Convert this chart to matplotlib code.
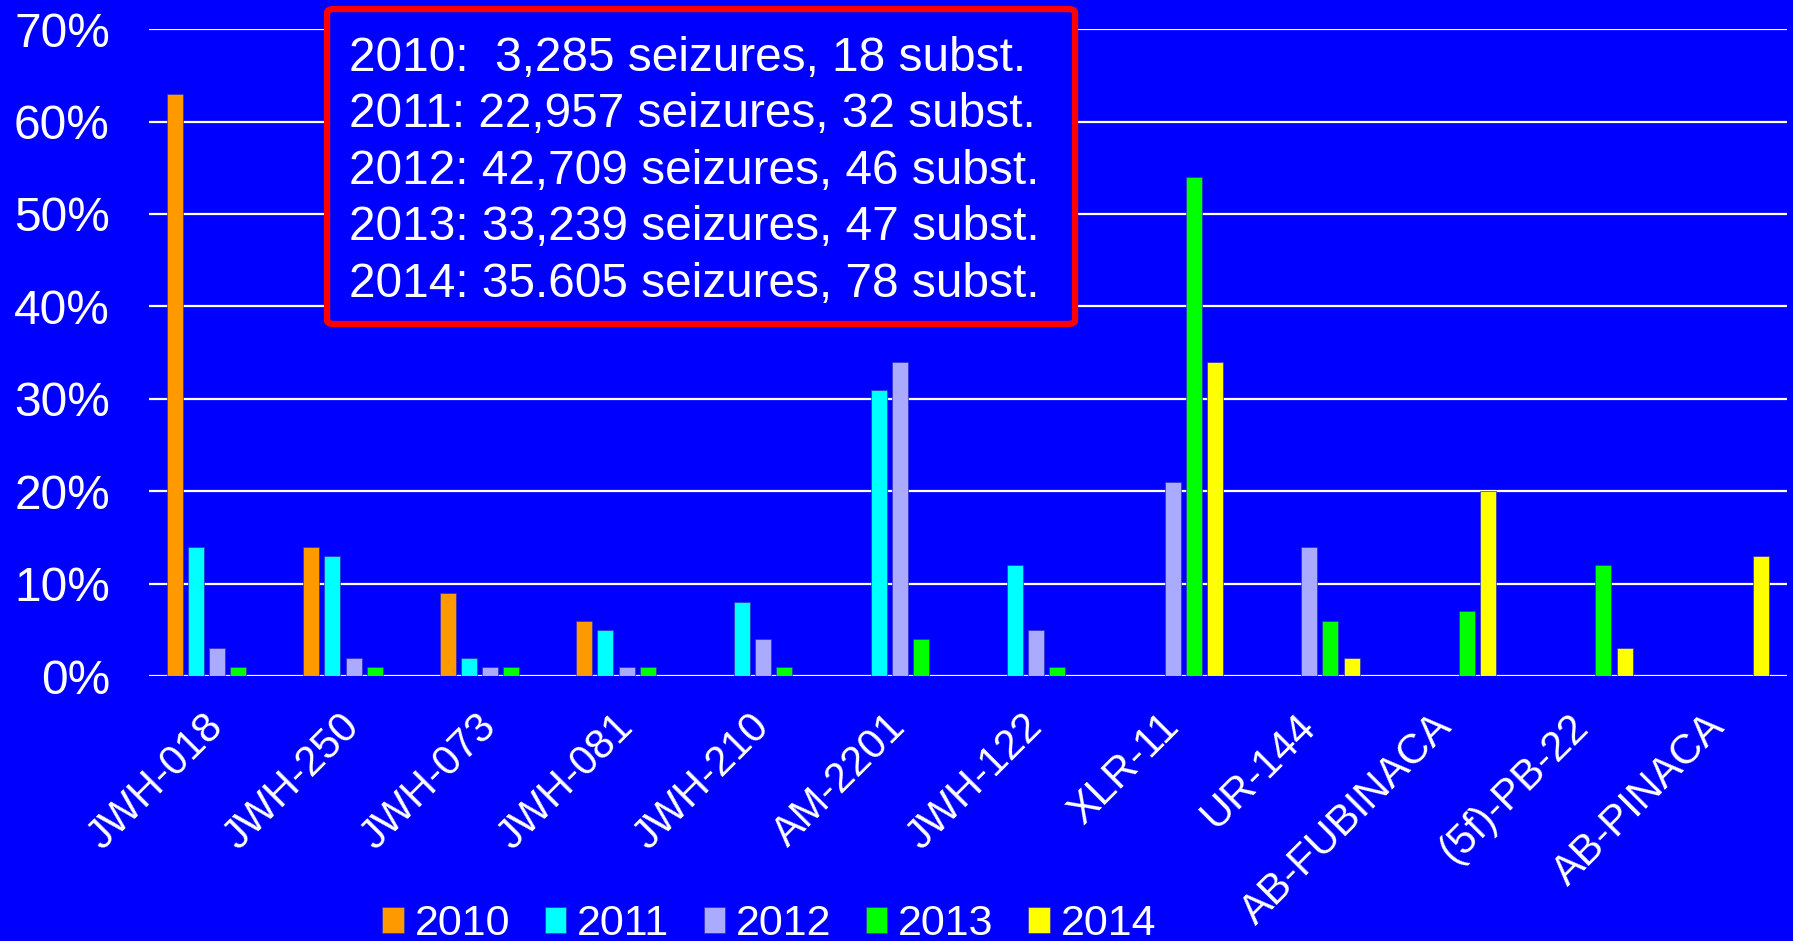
import matplotlib
matplotlib.use('Agg')
import matplotlib.pyplot as plt
import numpy as np
from matplotlib.patches import FancyBboxPatch

substances = ['JWH-018', 'JWH-250', 'JWH-073', 'JWH-081', 'JWH-210', 'AM-2201',
              'JWH-122', 'XLR-11', 'UR-144', 'AB-FUBINACA', '(5f)-PB-22', 'AB-PINACA']
years = ['2010', '2011', '2012', '2013', '2014']

share_2010 = [63, 14, 9, 6, 0, 0, 0, 0, 0, 0, 0, 0]
share_2011 = [14, 13, 2, 5, 8, 31, 12, 0, 0, 0, 0, 0]
share_2012 = [3, 2, 1, 1, 4, 34, 5, 21, 14, 0, 0, 0]
share_2013 = [1, 1, 1, 1, 1, 4, 1, 54, 6, 7, 12, 0]
share_2014 = [0, 0, 0, 0, 0, 0, 0, 34, 2, 20, 3, 13]

info_lines = ['2010:  3,285 seizures, 18 subst.',
              '2011: 22,957 seizures, 32 subst.',
              '2012: 42,709 seizures, 46 subst.',
              '2013: 33,239 seizures, 47 subst.',
              '2014: 35.605 seizures, 78 subst.']

colors = ['#FF9900', '#00FFFF', '#AAAAFF', '#00FF00', '#FFFF00']
bg = '#0000FF'

plt.rcParams['font.family'] = ['Liberation Sans', 'DejaVu Sans']

fig = plt.figure(figsize=(17.93, 9.41), dpi=100, facecolor=bg)
ax = fig.add_axes([0.083, 0.2816, 0.9137, 0.6874])
ax.set_facecolor(bg)

x = np.arange(len(substances))
pitch = 0.155
width = 0.117
series = [share_2010, share_2011, share_2012, share_2013, share_2014]
for i, (yr, vals) in enumerate(zip(years, series)):
    ax.bar(x + (i - 2) * pitch, vals, width, color=colors[i], label=yr,
           edgecolor='#3030c0', linewidth=0.5, zorder=3)

ax.set_xlim(-0.5, len(substances) - 0.5)
ax.set_ylim(0, 70)
ax.set_yticks(range(0, 71, 10))
ax.set_yticklabels([f'{v}%' for v in range(0, 71, 10)])
ax.yaxis.grid(True, color='white', linewidth=1.6)
ax.set_axisbelow(True)
for s in ax.spines.values():
    s.set_visible(False)
ax.tick_params(axis='y', length=0, pad=28, labelsize=34.5, labelcolor='white')
ax.tick_params(axis='x', length=0, pad=32, labelsize=30, labelcolor='white')
ax.set_xticks(x)
ax.set_xticklabels(substances, rotation=45, ha='right', va='center',
                   rotation_mode='anchor')

leg = ax.legend(loc='lower center', bbox_to_anchor=(0.429, -0.026),
                bbox_transform=fig.transFigure, ncol=5, frameon=False,
                fontsize=31, handlelength=0.5, handleheight=0.55,
                handletextpad=0.25, columnspacing=0.8, borderpad=0)
for t in leg.get_texts():
    t.set_color('white')

# box with seizure totals
box = FancyBboxPatch((0.1824, 0.6557), 0.4172, 0.3347,
                     boxstyle='round,pad=0,rounding_size=0.004',
                     transform=fig.transFigure, facecolor=bg,
                     edgecolor='#FF0000', linewidth=4.5)
fig.patches.append(box)
fig.text(0.1946, 0.818, '\n'.join(info_lines), fontsize=34.4, color='white',
         va='center', ha='left', linespacing=1.33)

fig.savefig('out.png', dpi=100, facecolor=bg)
